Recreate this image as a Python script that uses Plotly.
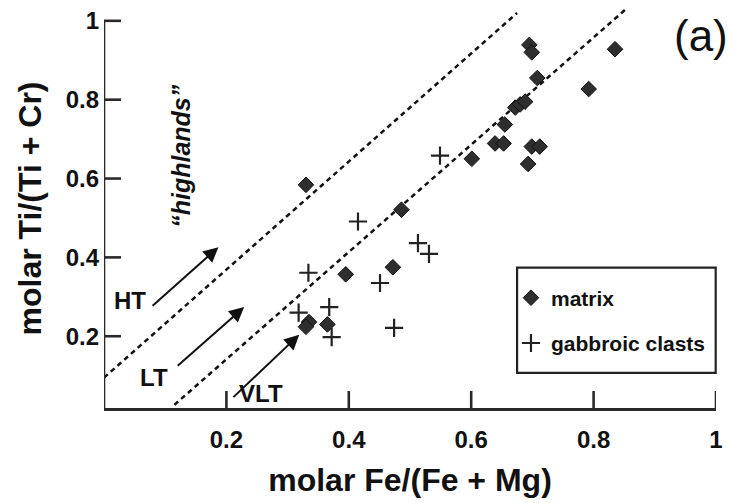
import plotly.graph_objects as go

# ---- data ----
matrix_x = [0.330, 0.486, 0.472, 0.395, 0.335, 0.330, 0.365, 0.695, 0.699, 0.835,
            0.708, 0.792, 0.672, 0.680, 0.688, 0.655, 0.639, 0.653, 0.699, 0.712,
            0.693, 0.601]
matrix_y = [0.584, 0.521, 0.375, 0.357, 0.236, 0.224, 0.230, 0.939, 0.920, 0.928,
            0.855, 0.827, 0.780, 0.788, 0.795, 0.737, 0.689, 0.689, 0.681, 0.681,
            0.637, 0.650]

clast_x = [0.415, 0.513, 0.531, 0.334, 0.451, 0.318, 0.368, 0.372, 0.474, 0.549]
clast_y = [0.491, 0.436, 0.409, 0.361, 0.335, 0.260, 0.274, 0.198, 0.221, 0.658]

# dashed trend lines (endpoints)
upper_line_x = [0.0, 0.675]
upper_line_y = [0.095, 1.020]
lower_line_x = [0.115, 0.853]
lower_line_y = [0.026, 1.030]

# arrows
arrow_labels = ["HT", "LT", "VLT"]
label_x = [0.042, 0.082, 0.257]
label_y = [0.291, 0.096, 0.056]
arrow_tail_x = [0.077, 0.118, 0.209]
arrow_tail_y = [0.274, 0.122, 0.042]
arrow_head_x = [0.187, 0.229, 0.319]
arrow_head_y = [0.426, 0.274, 0.204]

x_ticks = [0.2, 0.4, 0.6, 0.8, 1.0]
x_ticktext = ["0.2", "0.4", "0.6", "0.8", "1"]
y_ticks = [0.2, 0.4, 0.6, 0.8, 1.0]
y_ticktext = ["0.2", "0.4", "0.6", "0.8", "1"]

X_RANGE = [0.0, 1.0]
Y_RANGE = [0.018, 1.03]

FONT = "Liberation Sans, Arial, sans-serif"
AX = "#2a2a2a"
INK = "#111111"
TICKLEN = 17

fig = go.Figure()

for lx, ly in ((upper_line_x, upper_line_y), (lower_line_x, lower_line_y)):
    fig.add_trace(go.Scatter(x=lx, y=ly, mode="lines",
                             line=dict(color=INK, width=2.5, dash="5px,4px"),
                             showlegend=False, hoverinfo="skip"))

fig.add_trace(go.Scatter(x=matrix_x, y=matrix_y, mode="markers", name="matrix",
                         legendgroup="a",
                         marker=dict(symbol="diamond", size=12, color="#2e2e2e",
                                     line=dict(color=INK, width=1))))
fig.add_trace(go.Scatter(x=clast_x, y=clast_y, mode="markers", name="gabbroic clasts",
                         legendgroup="b",
                         marker=dict(symbol="cross-thin", size=13,
                                     line=dict(color="#222222", width=2.2))))

# y axis line drawn from the bottom of the range up to 1
fig.add_shape(type="line", xref="x", yref="y", x0=X_RANGE[0], x1=X_RANGE[0],
              y0=Y_RANGE[0], y1=y_ticks[-1], line=dict(color=AX, width=2.6))
# inward tick marks at the tick values
for v in x_ticks:
    fig.add_shape(type="line", xref="x", yref="y", x0=v, x1=v,
                  ysizemode="pixel", yanchor=Y_RANGE[0], y0=0, y1=TICKLEN,
                  line=dict(color=AX, width=2.6))
for v in y_ticks:
    fig.add_shape(type="line", xref="x", yref="y", y0=v, y1=v,
                  xsizemode="pixel", xanchor=X_RANGE[0], x0=0, x1=TICKLEN,
                  line=dict(color=AX, width=2.6))

# legend frame
fig.add_shape(type="rect", xref="paper", yref="paper", x0=0.675, x1=0.9995,
              y0=0.088, y1=0.352, line=dict(color="#222222", width=2.2),
              fillcolor="rgba(0,0,0,0)")

for lab, tx, ty, x0, y0, x1, y1 in zip(arrow_labels, label_x, label_y,
                                       arrow_tail_x, arrow_tail_y,
                                       arrow_head_x, arrow_head_y):
    fig.add_annotation(x=x1, y=y1, ax=x0, ay=y0, xref="x", yref="y",
                       axref="x", ayref="y", showarrow=True, arrowhead=2,
                       arrowsize=1.5, arrowwidth=2, arrowcolor=INK, text="")
    fig.add_annotation(x=tx, y=ty, xref="x", yref="y", text=lab, showarrow=False,
                       font=dict(family=FONT, size=24, color=INK, weight="bold"))

fig.add_annotation(x=0.126, y=0.658, xref="x", yref="y", text="“highlands”",
                   textangle=-90, showarrow=False,
                   font=dict(family=FONT, size=25, color=INK, style="italic",
                             weight="bold"))
fig.add_annotation(x=0.975, y=0.962, xref="x", yref="y", text="(a)", showarrow=False,
                   font=dict(family=FONT, size=44, color=INK))

fig.update_layout(
    width=730, height=503,
    margin=dict(l=104, r=7, t=8, b=95),
    paper_bgcolor="white", plot_bgcolor="white",
    font=dict(family=FONT, color=INK),
    showlegend=True,
    legend=dict(x=0.665, y=0.327, xanchor="left", yanchor="top",
                borderwidth=0, bgcolor="rgba(0,0,0,0)",
                font=dict(family=FONT, size=21, color=INK, weight="bold"),
                tracegroupgap=15, traceorder="grouped"),
    xaxis=dict(range=X_RANGE, tickmode="array", tickvals=x_ticks, ticktext=x_ticktext,
               showgrid=False, zeroline=False, showline=True, linecolor=AX,
               linewidth=2.6, ticks="", ticklabelstandoff=8,
               tickfont=dict(family=FONT, size=24, weight="bold", color=INK),
               title=dict(text="molar Fe/(Fe + Mg)", standoff=18,
                          font=dict(family=FONT, size=32, weight="bold", color=INK))),
    yaxis=dict(range=Y_RANGE, tickmode="array", tickvals=y_ticks, ticktext=y_ticktext,
               showgrid=False, zeroline=False, showline=False,
               ticks="", ticklabelstandoff=4,
               tickfont=dict(family=FONT, size=24, weight="bold", color=INK),
               title=dict(text="molar Ti/(Ti + Cr)", standoff=14,
                          font=dict(family=FONT, size=32, weight="bold", color=INK))),
)

fig.write_html("out.html")
